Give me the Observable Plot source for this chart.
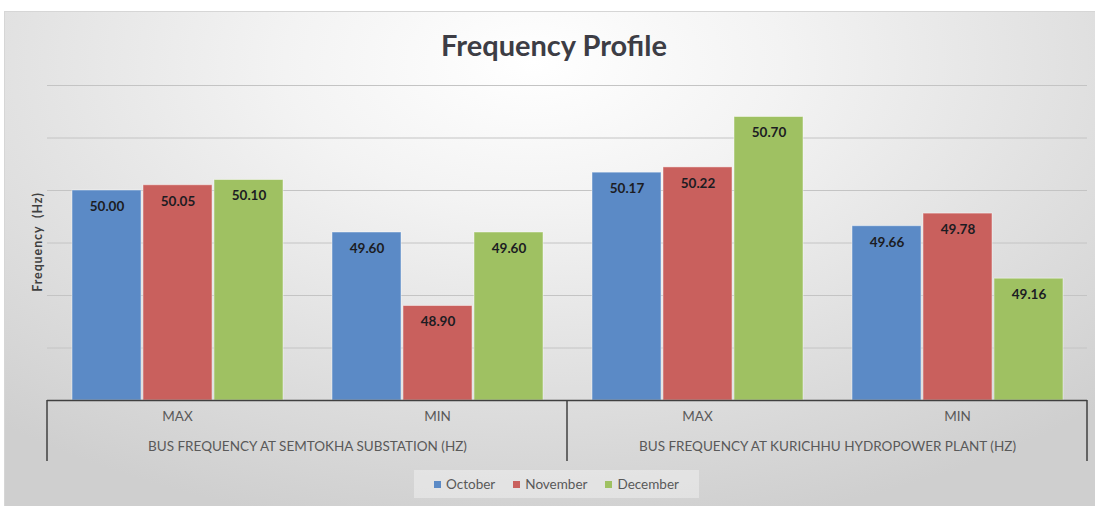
<!DOCTYPE html>
<html>
<head>
<meta charset="utf-8">
<script src="https://cdn.jsdelivr.net/npm/d3@7"></script>
<script src="https://cdn.jsdelivr.net/npm/@observablehq/plot@0.6"></script>
<style>
  html, body { margin: 0; padding: 0; background: #ffffff; }
  #wrap { position: relative; width: 1095px; height: 506px; overflow: hidden; font-family: Lato, "Open Sans", sans-serif; }
  #card { position: absolute; left: 4px; top: 11px; width: 1100px; height: 500px;
          background: radial-gradient(ellipse 75% 95% at 48% 10%, #ffffff 0%, #f3f3f3 30%, #cfcfcf 100%);
          border-top: 1px solid #d6d6d6; border-left: 1px solid #d6d6d6; }
  #title { position: absolute; left: 0; width: 1108px; top: 27px; text-align: center; font-weight: bold;
           font-size: 29px; line-height: 36px; color: #3d3d45; }
  #ytitle { position: absolute; left: 37px; top: 242px; transform: translate(-50%, -50%) rotate(-90deg);
            font-weight: bold; font-size: 12.5px; letter-spacing: 0.9px; color: #404040; white-space: pre; }
  #chart { position: absolute; left: 0; top: 70px; }
  #legend { position: absolute; left: 414px; top: 470px; width: 285px; height: 28px;
            background: rgba(255,255,255,0.35); display: flex; align-items: center; justify-content: center; }
  #legend > div { margin: 0 !important; min-height: 0 !important; font-size: 13.5px !important; color: #595959 !important;
                  font-family: Lato, "Open Sans", sans-serif !important; }
  #legend > div > span { margin-right: 18px !important; }
  #legend > div > span:last-child { margin-right: 0 !important; }
  #legend > div > span > svg { margin-right: 5px !important; }
</style>
</head>
<body>
<div id="wrap">
  <div id="card"></div>
  <div id="title">Frequency Profile</div>
  <div id="ytitle">Frequency  (Hz)</div>
  <div id="chart"></div>
  <div id="legend"></div>
</div>
<script>
// ---- data ----
const months = ["October", "November", "December"];
const stations = ["BUS FREQUENCY AT SEMTOKHA SUBSTATION (HZ)", "BUS FREQUENCY AT KURICHHU HYDROPOWER PLANT (HZ)"];
const stats = ["MAX", "MIN"];
// order: Semtokha MAX, Semtokha MIN, Kurichhu MAX, Kurichhu MIN
const october  = [50.00, 49.60, 50.17, 49.66];
const november = [50.05, 48.90, 50.22, 49.78];
const december = [50.10, 49.60, 50.70, 49.16];
const yDomain = [48, 51];
const yGrid = [48.5, 49, 49.5, 50, 50.5, 51];
const colors = ["#5B8AC6", "#C9605D", "#9FC162"];

// ---- build table ----
const seriesByMonth = {October: october, November: november, December: december};
const groups = [];
stations.forEach((s, si) => stats.forEach((t, ti) => groups.push({station: s, stat: t, key: s + "|" + t, i: si * 2 + ti})));
const keys = groups.map(g => g.key);
const rows = [];
groups.forEach(g => months.forEach(m => rows.push({key: g.key, month: m, value: seriesByMonth[m][g.i]})));

const FONT = 'Lato, "Open Sans", sans-serif';

const chart = Plot.plot({
  width: 1095,
  height: 400,
  marginTop: 15,
  marginBottom: 70,
  marginLeft: 46,
  marginRight: 8,
  style: {background: "transparent", fontFamily: FONT, overflow: "visible"},
  fx: {domain: keys, padding: 0, axis: null},
  x: {domain: months, paddingInner: 0.03, paddingOuter: 0.34, axis: null},
  y: {domain: yDomain, axis: null},
  color: {domain: months, range: colors},
  marks: [
    Plot.ruleY(yGrid, {stroke: "#c4c4c4", strokeWidth: 1}),
    Plot.barY(rows, {fx: "key", x: "month", y1: yDomain[0], y2: "value", fill: "month",
                     stroke: "#ffffff", strokeOpacity: 0.45, strokeWidth: 1}),
    Plot.text(rows, {fx: "key", x: "month", y: "value", text: d => d.value.toFixed(2), dy: 16,
                     fontWeight: "bold", fontSize: 13.5, fill: "#1c1c22"}),
    Plot.ruleY([yDomain[0]], {stroke: "#404040", strokeWidth: 1.5}),
    Plot.text(groups, {fx: "key", text: "stat", frameAnchor: "bottom", dy: 20, fontSize: 13.5, fill: "#595959"}),
    Plot.text(groups.filter(g => g.stat === "MIN"), {fx: "key", text: "station", frameAnchor: "bottom-left",
                     textAnchor: "middle", dy: 50, fontSize: 13.5, fill: "#595959"})
  ]
});
document.getElementById("chart").appendChild(chart);

// category separators placed through the fx / y scales
const fxs = chart.scale("fx");
const ys = chart.scale("y");
const yb = ys.apply(yDomain[0]);
const edges = [fxs.apply(keys[0]), fxs.apply(keys[2]), fxs.apply(keys[3]) + fxs.bandwidth];
d3.select(chart).append("g")
  .selectAll("line").data(edges).join("line")
  .attr("x1", d => d).attr("x2", d => d)
  .attr("y1", yb).attr("y2", yb + 61)
  .attr("stroke", "#404040").attr("stroke-width", 1.5);

const legend = Plot.legend({
  color: {domain: months, range: colors},
  legend: "swatches",
  swatchSize: 7,
  className: "lg"
});
document.getElementById("legend").appendChild(legend);
</script>
</body>
</html>
